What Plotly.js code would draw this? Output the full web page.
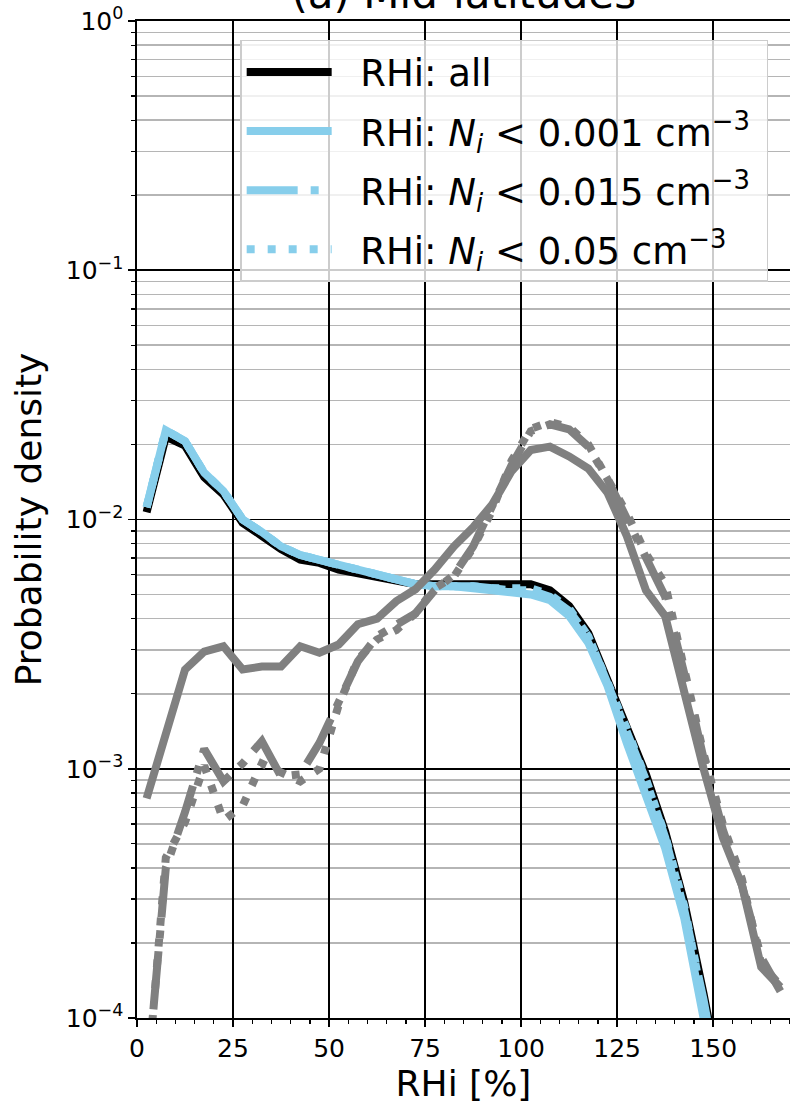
<!DOCTYPE html>
<html>
<head>
<meta charset="utf-8">
<script src="https://cdn.plot.ly/plotly-3.0.1.min.js"></script>
<style>html,body{margin:0;padding:0;background:#fff;}#chart{width:790px;height:1108px;}</style>
</head>
<body>
<div id="chart"></div>
<script>
// RHi bin centres [%]
var rhi = [2.5, 7.5, 12.5, 17.5, 22.5, 27.5, 32.5, 37.5, 42.5, 47.5,
           52.5, 57.5, 62.5, 67.5, 72.5, 77.5, 82.5, 87.5, 92.5, 97.5,
           102.5, 107.5, 112.5, 117.5, 122.5, 127.5, 132.5, 137.5, 142.5, 147.5,
           152.5, 157.5, 162.5, 167.5];

// curves in the legend
var pdfAll = [0.0107, 0.0215, 0.0198, 0.0148, 0.0126, 0.0097, 0.0086, 0.0076, 0.0069, 0.0067,
              0.0063, 0.0061, 0.0058, 0.0057, 0.0055, 0.0055, 0.0055, 0.0056, 0.0055, 0.0055,
              0.0055, 0.0052, 0.0045, 0.0035, 0.0023, 0.0015, 0.00095, 0.00056, 0.00029, 0.000125,
              0.00005, null, null, null];
var pdfNi001 = [0.0112, 0.0228, 0.0206, 0.0154, 0.0130, 0.0100, 0.0089, 0.0078, 0.0072, 0.0069,
                0.0065, 0.0063, 0.0060, 0.0058, 0.0055, 0.0054, 0.0054, 0.0053, 0.0052, 0.0051,
                0.0050, 0.00475, 0.0041, 0.0032, 0.00215, 0.00127, 0.00080, 0.00048, 0.00025, 0.000105,
                0.00004, null, null, null];
var pdfNi015 = [0.0112, 0.0228, 0.0206, 0.0154, 0.0130, 0.0100, 0.0089, 0.0078, 0.0072, 0.0069,
                0.0065, 0.0063, 0.0060, 0.0058, 0.0055, 0.0054, 0.0054, 0.0054, 0.0053, 0.0052,
                0.0052, 0.0049, 0.0043, 0.0034, 0.0022, 0.00142, 0.00090, 0.00053, 0.00027, 0.000118,
                0.000045, null, null, null];
var pdfNi05 = [0.0112, 0.0228, 0.0206, 0.0154, 0.0130, 0.0100, 0.0089, 0.0078, 0.0072, 0.0069,
               0.0065, 0.0063, 0.0060, 0.0058, 0.0055, 0.0054, 0.0054, 0.0054, 0.0053, 0.0053,
               0.0053, 0.0050, 0.0044, 0.0034, 0.00225, 0.00145, 0.00091, 0.00054, 0.00028, 0.00012,
               0.000045, null, null, null];

// grey curves (not in legend)
var greyAll = [0.00076, 0.00135, 0.0025, 0.00295, 0.0031, 0.0025, 0.00257, 0.00257, 0.0031, 0.00292,
               0.00315, 0.0038, 0.0040, 0.0047, 0.00525, 0.0063, 0.0078, 0.0093, 0.0115, 0.0156,
               0.0190, 0.0196, 0.0179, 0.0160, 0.0128, 0.0086, 0.0052, 0.0041, 0.00195, 0.00100,
               0.00053, 0.00034, 0.000160, 0.000133];
var greyNi015 = [0.000053, 0.00040, 0.00067, 0.0012, 0.00089, 0.00105, 0.00129, 0.00093, 0.00095, 0.00127,
                 0.00185, 0.0027, 0.0034, 0.0038, 0.0042, 0.0052, 0.0060, 0.0078, 0.0112, 0.0165,
                 0.0226, 0.0241, 0.0230, 0.0196, 0.0145, 0.0100, 0.0069, 0.0049, 0.0024, 0.00110,
                 0.00057, 0.00034, 0.000175, 0.000128];
var greyNi05 = [0.000050, 0.00044, 0.00061, 0.00103, 0.00062, 0.00071, 0.00105, 0.00097, 0.00089, 0.0010,
                0.0018, 0.00275, 0.0033, 0.0036, 0.0042, 0.0053, 0.0059, 0.0077, 0.0109, 0.0172,
                0.0231, 0.0246, 0.0235, 0.0200, 0.0147, 0.0106, 0.0073, 0.0055, 0.0025, 0.00115,
                0.00060, 0.00036, 0.000165, 0.000135];

// axis labels and legend texts
var yTickVals = [1e-4, 1e-3, 1e-2, 1e-1, 1];
var yTickText = ['10<sup>\u22124</sup>', '10<sup>\u22123</sup>', '10<sup>\u22122</sup>', '10<sup>\u22121</sup>', '10<sup>0</sup>'];
var legendNames = ['RHi: all',
                   'RHi: <i>N<sub>i</sub></i> &lt; 0.001 cm<sup>\u22123</sup>',
                   'RHi: <i>N<sub>i</sub></i> &lt; 0.015 cm<sup>\u22123</sup>',
                   'RHi: <i>N<sub>i</sub></i> &lt; 0.05 cm<sup>\u22123</sup>'];

var SKY = '#87ceeb', GREY = '#808080';
var LW = 8;
var DASHDOT = '51px,13px,8px,13px';
var DOT = '8px,13px';

// minor tick positions on the log axis (2..9 x each decade)
var minorY = [];
for (var e = -4; e < 0; e++) {
  for (var m = 2; m <= 9; m++) minorY.push(m * Math.pow(10, e));
}

function tr(y, name, color, dash, show, grp) {
  return {x: rhi, y: y, type: 'scatter', mode: 'lines',
          name: show ? '\u00a0\u00a0' + name + '\u00a0' : name,
          showlegend: show, legendgroup: grp, connectgaps: false,
          line: {color: color, width: LW, dash: dash}};
}

var data = [
  tr(pdfAll, legendNames[0], '#000000', 'solid', true, 'g1'),
  tr(pdfNi001, legendNames[1], SKY, 'solid', true, 'g2'),
  tr(pdfNi015, legendNames[2], SKY, DASHDOT, true, 'g3'),
  tr(pdfNi05, legendNames[3], SKY, DOT, true, 'g4'),
  tr(greyAll, 'grey all', GREY, 'solid', false, 'g5'),
  tr(greyNi015, 'grey 0.015', GREY, DASHDOT, false, 'g6'),
  tr(greyNi05, 'grey 0.05', GREY, DOT, false, 'g7')
];

var FONT = 'DejaVu Sans, sans-serif';

var layout = {
  width: 790, height: 1108,
  margin: {l: 137, r: 0, t: 21, b: 90},
  paper_bgcolor: '#ffffff', plot_bgcolor: '#ffffff',
  font: {family: FONT, color: '#000000', size: 25},
  title: {text: '(a) Mid-latitudes', font: {family: FONT, size: 42, color: '#000'},
          x: 0.587, xanchor: 'center', xref: 'container',
          y: 0.9932, yanchor: 'bottom', yref: 'container'},
  xaxis: {
    range: [0, 170], tick0: 0, dtick: 25,
    showgrid: true, gridcolor: '#000000', gridwidth: 1.6,
    showline: true, linecolor: '#000000', linewidth: 1.6, mirror: true,
    ticks: 'outside', ticklen: 7, tickwidth: 1.6, tickcolor: '#000',
    tickfont: {family: FONT, size: 25},
    zeroline: false,
    minor: {dtick: 5, tick0: 0, ticks: 'outside', ticklen: 4, tickwidth: 1.3, tickcolor: '#000', showgrid: false},
    title: {text: 'RHi [%]', font: {family: FONT, size: 36}, standoff: 8}
  },
  yaxis: {
    type: 'log', range: [-4, 0],
    tickmode: 'array', tickvals: yTickVals, ticktext: yTickText,
    showgrid: true, gridcolor: '#000000', gridwidth: 1.6,
    showline: true, linecolor: '#000000', linewidth: 1.6, mirror: true,
    ticks: 'outside', ticklen: 7, tickwidth: 1.6, tickcolor: '#000',
    tickfont: {family: FONT, size: 25},
    zeroline: false,
    minor: {tickmode: 'array', tickvals: minorY, ticks: 'outside', ticklen: 4, tickwidth: 1.3,
            tickcolor: '#000', showgrid: true, gridcolor: '#b5b5b5', gridwidth: 1.6},
    title: {text: 'Probability density', font: {family: FONT, size: 36}, standoff: 13}
  },
  legend: {
    x: 0.158, xanchor: 'left', y: 0.981, yanchor: 'top',
    bgcolor: 'rgba(255,255,255,0.8)', bordercolor: '#cccccc', borderwidth: 1.5,
    font: {family: FONT, size: 37, color: '#000'},
    itemwidth: 85, traceorder: 'grouped', tracegroupgap: 8
  },
  showlegend: true
};

Plotly.newPlot('chart', data, layout, {displayModeBar: false, staticPlot: true});
</script>
</body>
</html>
